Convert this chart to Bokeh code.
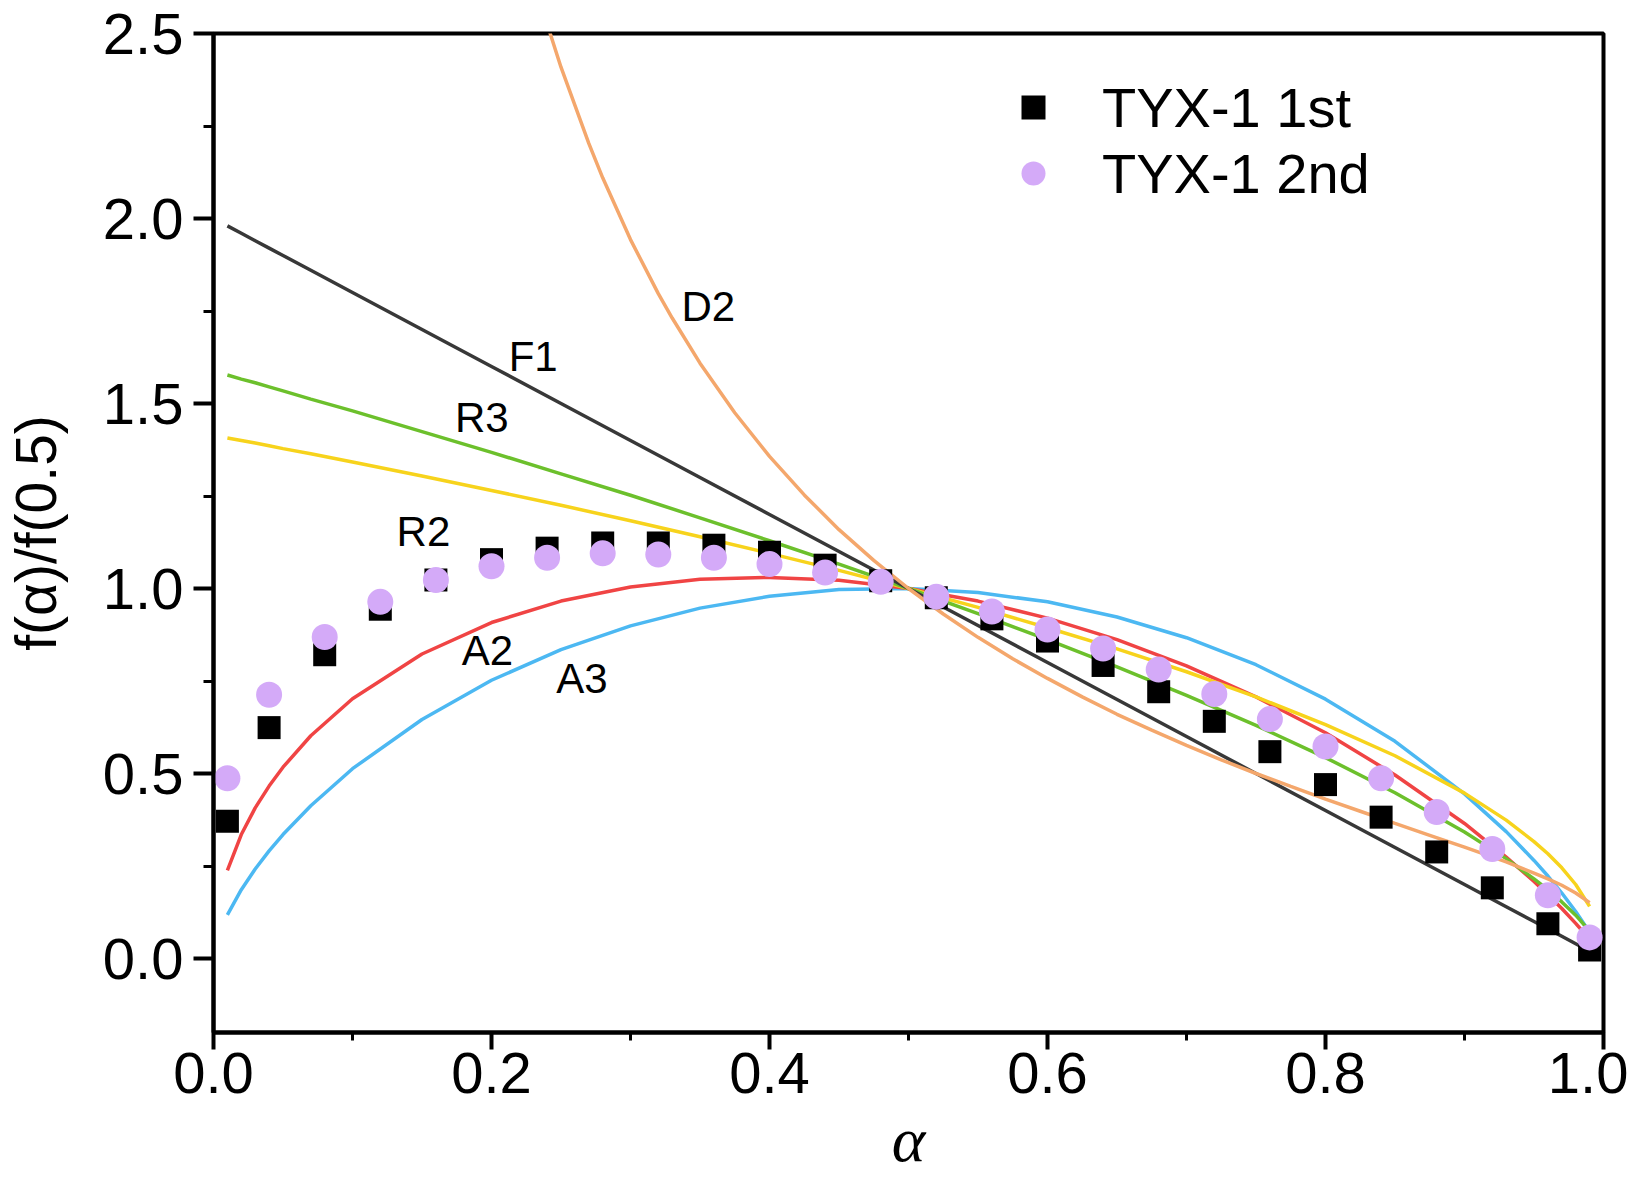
from bokeh.plotting import figure
from bokeh.models import Label, Legend, LegendItem, FixedTicker, Range1d, PrintfTickFormatter
from bokeh.embed import file_html
from bokeh.resources import INLINE

# ---------------- data ----------------
alpha_model = [0.01, 0.02, 0.03, 0.04, 0.05, 0.07, 0.10, 0.15, 0.20, 0.25, 0.30, 0.35, 0.40, 0.45, 0.50,
               0.55, 0.60, 0.65, 0.70, 0.75, 0.80, 0.85, 0.90, 0.93, 0.95, 0.96, 0.97, 0.98, 0.99]
f1 = [1.98, 1.96, 1.94, 1.92, 1.90, 1.86, 1.80, 1.70, 1.60, 1.50, 1.40, 1.30, 1.20, 1.10, 1.00,
      0.90, 0.80, 0.70, 0.60, 0.50, 0.40, 0.30, 0.20, 0.14, 0.10, 0.08, 0.06, 0.04, 0.02]
r3 = [1.577, 1.566, 1.556, 1.545, 1.534, 1.512, 1.480, 1.424, 1.368, 1.310, 1.252, 1.191, 1.129, 1.066, 1.000,
      0.932, 0.862, 0.788, 0.711, 0.630, 0.543, 0.448, 0.342, 0.270, 0.215, 0.186, 0.153, 0.117, 0.074]
r2 = [1.407, 1.400, 1.393, 1.386, 1.378, 1.364, 1.342, 1.304, 1.265, 1.225, 1.183, 1.140, 1.095, 1.049, 1.000,
      0.949, 0.894, 0.837, 0.775, 0.707, 0.632, 0.548, 0.447, 0.374, 0.316, 0.283, 0.245, 0.200, 0.141]
a2 = [0.238, 0.335, 0.407, 0.466, 0.517, 0.602, 0.702, 0.823, 0.908, 0.966, 1.004, 1.025, 1.030, 1.022, 1.000,
      0.966, 0.920, 0.862, 0.791, 0.707, 0.610, 0.496, 0.365, 0.274, 0.208, 0.172, 0.135, 0.095, 0.052]
a3 = [0.118, 0.186, 0.242, 0.291, 0.335, 0.413, 0.513, 0.646, 0.752, 0.835, 0.899, 0.947, 0.979, 0.997, 1.000,
      0.989, 0.964, 0.923, 0.867, 0.794, 0.701, 0.587, 0.445, 0.343, 0.265, 0.223, 0.177, 0.127, 0.071]
alpha_d2 = [0.20, 0.21, 0.22, 0.23, 0.24, 0.25, 0.27, 0.28, 0.30, 0.32, 0.33, 0.35, 0.375, 0.40, 0.425,
            0.45, 0.475, 0.50, 0.525, 0.55, 0.575, 0.60, 0.625, 0.65, 0.675, 0.70, 0.725, 0.75, 0.775,
            0.80, 0.825, 0.85, 0.875, 0.90, 0.93, 0.95, 0.96, 0.97, 0.98, 0.99]
d2 = [3.106, 2.941, 2.790, 2.652, 2.526, 2.409, 2.203, 2.110, 1.943, 1.797, 1.731, 1.609, 1.475, 1.357, 1.253,
      1.159, 1.076, 1.000, 0.931, 0.868, 0.810, 0.757, 0.707, 0.660, 0.617, 0.576, 0.537, 0.500, 0.465,
      0.431, 0.398, 0.365, 0.333, 0.301, 0.261, 0.231, 0.215, 0.198, 0.177, 0.151]

alpha_exp = [0.01, 0.04, 0.08, 0.12, 0.16, 0.20, 0.24, 0.28, 0.32, 0.36, 0.40, 0.44, 0.48,
             0.52, 0.56, 0.60, 0.64, 0.68, 0.72, 0.76, 0.80, 0.84, 0.88, 0.92, 0.96, 0.99]
tyx_1st = [0.371, 0.624, 0.821, 0.944, 1.023, 1.078, 1.109, 1.123, 1.123, 1.117, 1.098, 1.063, 1.021,
           0.975, 0.918, 0.858, 0.792, 0.721, 0.641, 0.559, 0.470, 0.382, 0.288, 0.191, 0.094, 0.023]
tyx_2nd = [0.487, 0.713, 0.869, 0.964, 1.023, 1.060, 1.083, 1.095, 1.092, 1.083, 1.066, 1.043, 1.018,
           0.978, 0.938, 0.889, 0.838, 0.781, 0.715, 0.647, 0.573, 0.487, 0.396, 0.296, 0.171, 0.057]

series_names = ["TYX-1 1st", "TYX-1 2nd"]
model_names = ["F1", "R3", "R2", "A2", "A3", "D2"]
x_ticks = [0.0, 0.2, 0.4, 0.6, 0.8, 1.0]
y_ticks = [0.0, 0.5, 1.0, 1.5, 2.0, 2.5]
x_title = "α"
y_title = "f(α)/f(0.5)"

# ---------------- styles / positions ----------------
SANS = "Liberation Sans"
LW = 3.5
model_colors = {"F1": "#383838", "R3": "#6cc02c", "R2": "#f7d31c",
                "A2": "#f04444", "A3": "#4cb8f2", "D2": "#f4a76c"}
label_pos = {"F1": (0.230, 1.627), "R3": (0.193, 1.462), "R2": (0.151, 1.154),
             "A2": (0.197, 0.832), "A3": (0.265, 0.757), "D2": (0.356, 1.762)}

p = figure(frame_width=1390, frame_height=999,
           x_range=Range1d(0, 1), y_range=Range1d(-0.2, 2.5),
           output_backend="svg", toolbar_location=None,
           min_border_left=213, min_border_top=33, min_border_right=25, min_border_bottom=140)
p.grid.visible = False
p.outline_line_color = "black"
p.outline_line_width = 4
p.background_fill_color = "white"
p.border_fill_color = "white"

p.xaxis.ticker = FixedTicker(ticks=x_ticks, minor_ticks=[0.1, 0.3, 0.5, 0.7, 0.9])
p.yaxis.ticker = FixedTicker(ticks=y_ticks, minor_ticks=[0.25, 0.75, 1.25, 1.75, 2.25])
for ax in (p.xaxis, p.yaxis):
    ax.formatter = PrintfTickFormatter(format="%.1f")
    ax.axis_line_width = 4
    ax.axis_line_color = "black"
    ax.major_tick_line_width = 4
    ax.minor_tick_line_width = 3
    ax.major_tick_in = 0
    ax.minor_tick_in = 0
    ax.major_label_text_font = SANS
    ax.major_label_text_font_size = "58px"
    ax.major_label_text_color = "black"
p.xaxis.major_tick_out = 17
p.xaxis.minor_tick_out = 8
p.xaxis.major_label_standoff = 3
p.yaxis.major_tick_out = 20
p.yaxis.minor_tick_out = 10
p.yaxis.major_label_standoff = 10

p.xaxis.axis_label = x_title
p.xaxis.axis_label_text_font = "Liberation Serif"
p.xaxis.axis_label_text_font_style = "italic"
p.xaxis.axis_label_text_font_size = "64px"
p.xaxis.axis_label_text_color = "black"
p.xaxis.axis_label_standoff = 8

p.yaxis.axis_label = y_title
p.yaxis.axis_label_text_font = SANS
p.yaxis.axis_label_text_font_style = "normal"
p.yaxis.axis_label_text_font_size = "57px"
p.yaxis.axis_label_text_color = "black"
p.yaxis.axis_label_standoff = 32

# model curves
p.line(alpha_model, a3, line_color=model_colors["A3"], line_width=LW)
p.line(alpha_model, a2, line_color=model_colors["A2"], line_width=LW)
p.line(alpha_model, r2, line_color=model_colors["R2"], line_width=LW)
p.line(alpha_model, r3, line_color=model_colors["R3"], line_width=LW)
p.line(alpha_model, f1, line_color=model_colors["F1"], line_width=LW)
p.line(alpha_d2, d2, line_color=model_colors["D2"], line_width=LW)

sq = p.scatter(alpha_exp, tyx_1st, marker="square", size=23, fill_color="black", line_color=None)
ci = p.scatter(alpha_exp, tyx_2nd, marker="circle", size=26, fill_color="#d4aaf8", line_color=None)

for name in model_names:
    lx, ly = label_pos[name]
    p.add_layout(Label(x=lx, y=ly, text=name, text_align="center", text_baseline="middle",
                       text_font=SANS, text_font_size="42px", text_color="black"))

legend = Legend(items=[LegendItem(label=series_names[0], renderers=[sq]),
                       LegendItem(label=series_names[1], renderers=[ci])],
                location=(790, 826), border_line_color=None, background_fill_alpha=0,
                label_text_font=SANS, label_text_font_size="56px", label_text_color="black",
                glyph_width=60, glyph_height=66, label_height=66, spacing=0, padding=0, margin=0,
                label_standoff=39)
p.add_layout(legend)

open("out.html", "w").write(file_html(p, INLINE))
